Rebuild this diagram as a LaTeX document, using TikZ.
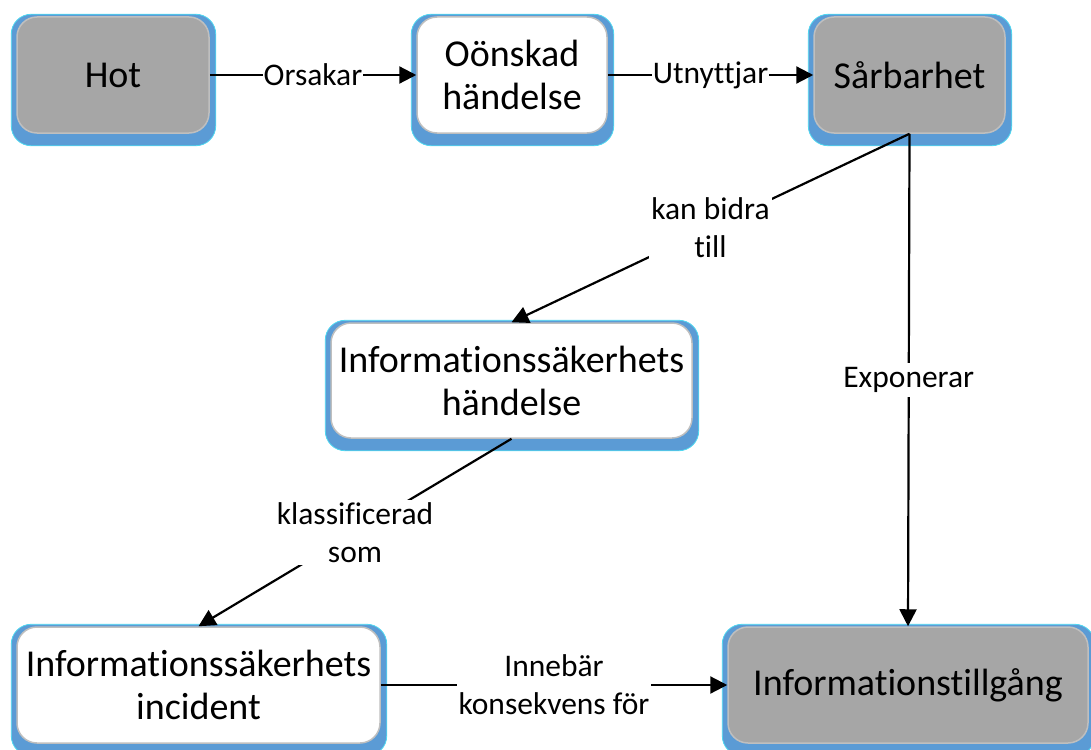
\documentclass[tikz,border=0pt]{standalone}
\usepackage{fontspec}
\setmainfont{Carlito}[Ligatures=NoCommon]
\usetikzlibrary{arrows.meta,backgrounds}
\definecolor{shblue}{HTML}{5B9BD5}
\definecolor{shedge}{HTML}{4FD8F0}
\definecolor{boxgray}{HTML}{A6A6A6}
\definecolor{edgegray}{HTML}{BFBFBF}
\newcommand\boxshadow[1]{%
  \fill[shblue, draw=shedge, line width=0.8pt, rounded corners=20pt]
    ([shift={(-5pt,2pt)}]#1.north west) rectangle ([shift={(6pt,-12pt)}]#1.south east);}
\begin{document}
\begin{tikzpicture}[x=1pt,y=-1pt,
  box/.style={draw=edgegray, line width=1.5pt, rounded corners=20pt, align=center,
    font=\fontsize{38}{43}\selectfont, inner sep=0pt},
  graybox/.style={box, fill=boxgray},
  whitebox/.style={box, fill=white},
  conn/.style={line width=2.2pt, -{Triangle[length=17pt,width=17pt]}},
  lbl/.style={fill=white, font=\fontsize{31.5}{38}\selectfont, align=center, inner sep=2pt}
]
\useasboundingbox (0,0) rectangle (1091,749);

\node[graybox, minimum width=192pt, minimum height=116pt] (hot) at (113,75) {Hot};
\node[whitebox, minimum width=190pt, minimum height=116pt] (ons) at (512,75) {Oönskad\\händelse};
\node[graybox, minimum width=191pt, minimum height=116pt] (sar) at (909.5,75) {Sårbarhet};
\node[whitebox, minimum width=361pt, minimum height=115pt] (ish) at (511.5,380.5) {Informationssäkerhets\\händelse};
\node[whitebox, minimum width=363pt, minimum height=116pt] (isi) at (198.5,685) {Informationssäkerhets\\incident};
\node[graybox, minimum width=360pt, minimum height=116pt] (itg) at (908,685) {Informationstillgång};

\begin{scope}[on background layer]
  \boxshadow{hot}
  \boxshadow{ons}
  \boxshadow{sar}
  \boxshadow{ish}
  \boxshadow{isi}
  \boxshadow{itg}
\end{scope}

\draw[conn] (hot) -- node[lbl, inner sep=1pt] {Orsakar} (ons);
\draw[conn] (ons) -- node[lbl, inner sep=1pt] {Utnyttjar} (sar);
\draw[conn] (sar.south) -- node[lbl] {kan bidra\\till} (ish.north);
\draw[conn] (sar.south) -- node[lbl, inner sep=4pt] {Exponerar} (itg.north);
\draw[conn] (ish.south) -- node[lbl] {klassificerad\\som} (isi.north);
\draw[conn] (isi) -- node[lbl] {Innebär\\konsekvens för} (itg);
\end{tikzpicture}
\end{document}
